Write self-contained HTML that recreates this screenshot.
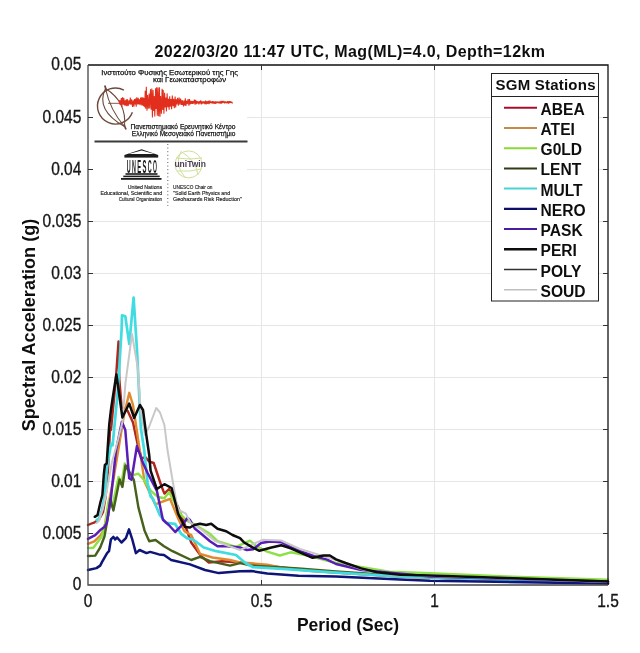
<!DOCTYPE html>
<html><head><meta charset="utf-8"><style>
html,body{margin:0;padding:0;background:#fff;width:640px;height:653px;overflow:hidden}
svg{display:block}
text{font-family:"Liberation Sans",sans-serif}
</style></head><body>
<svg width="640" height="653" viewBox="0 0 640 653">
<defs><filter id="soft" x="0" y="0" width="640" height="653" filterUnits="userSpaceOnUse"><feGaussianBlur stdDeviation="0.35"/></filter></defs>
<g filter="url(#soft)">
<rect width="640" height="653" fill="#fff"/>
<g stroke="#e6e6e6" stroke-width="1">
<path d="M261.5 65V585M434.5 65V585"/>
<path d="M88 533.5H608M88 481.5H608M88 429.5H608M88 377.5H608M88 325.5H608M88 273.5H608M88 221.5H608M88 169.5H608M88 117.5H608"/>
</g>
<rect x="89" y="66" width="158" height="145" fill="#fff"/>
<g font-size="7.8" fill="#111" stroke="#111" stroke-width="0.25">
<text x="101.3" y="75.4" textLength="136.7" lengthAdjust="spacingAndGlyphs">Ινστιτούτο Φυσικής Εσωτερικού της Γης</text>
<text x="153" y="82.4" textLength="73" lengthAdjust="spacingAndGlyphs">και Γεωκαταστροφών</text>
<text x="130.5" y="129.1" textLength="105" lengthAdjust="spacingAndGlyphs">Πανεπιστημιακό Ερευνητικό Κέντρο</text>
<text x="131.8" y="136.3" textLength="103.6" lengthAdjust="spacingAndGlyphs">Ελληνικό Μεσογειακό Πανεπιστήμιο</text>
</g>
<g fill="none" stroke="#6e4a3c" stroke-width="1.4">
<path d="M123.9 90.1 A18 18 0 1 0 132.4 112.2"/>
<path d="M105.5 88.5 Q95 110 124.5 126.5" stroke-width="1.1"/>
<path d="M105.5 88.5 Q110 110 124.5 126.5" stroke-width="1.1"/>
<path d="M105.5 88.5 Q127 102 124.5 126.5" stroke-width="1.1"/>
<path d="M104.8 85.5 L106.2 90 M124 124.5 L126 129.5" stroke-width="1.8"/>
<path d="M108 103.3 H120" stroke-width="0.9"/>
</g>
<path d="M119.0 100.0 L119.7 104.3 L120.3 100.3 L120.8 104.9 L121.3 98.0 L121.9 107.0 L122.5 97.4 L123.3 104.6 L123.8 97.9 L124.5 105.5 L125.2 100.3 L125.7 105.7 L126.3 99.3 L126.9 106.2 L127.5 99.3 L128.2 105.9 L129.0 100.3 L129.8 104.4 L130.3 97.6 L131.0 104.6 L131.7 99.3 L132.5 107.0 L133.2 100.3 L133.9 106.8 L134.5 99.0 L135.1 104.4 L135.6 98.5 L136.2 106.6 L136.8 97.4 L137.6 104.5 L138.2 97.9 L138.8 104.5 L139.4 99.3 L139.9 104.8 L140.6 97.6 L141.2 105.4 L141.8 97.4 L142.5 105.4 L143.0 97.4 L143.5 106.2 L144.1 98.0 L144.7 107.2 L145.2 90.8 L145.7 108.8 L146.3 86.8 L147.0 110.7 L147.5 95.0 L148.3 108.7 L149.1 93.5 L149.7 108.5 L150.5 89.2 L151.1 109.8 L151.8 88.4 L152.4 117.5 L153.1 89.9 L153.7 111.0 L154.2 96.1 L154.8 116.5 L155.6 88.3 L156.1 109.0 L156.7 87.2 L157.3 115.7 L158.0 87.4 L158.7 116.2 L159.4 87.3 L160.0 116.8 L160.6 96.1 L161.4 113.7 L162.1 88.8 L162.7 110.0 L163.2 89.9 L163.9 113.7 L164.6 92.8 L165.2 107.4 L165.9 97.6 L166.4 111.5 L167.1 93.4 L167.8 107.3 L168.5 98.8 L169.1 109.8 L169.7 96.3 L170.3 106.8 L171.0 99.1 L171.6 109.3 L172.3 95.6 L173.0 106.2 L173.7 98.8 L174.3 108.3 L175.1 96.5 L175.7 107.4 L176.3 99.4 L176.8 104.5 L177.6 97.7 L178.3 105.6 L179.1 97.6 L179.8 104.7 L180.6 98.5 L181.3 104.9 L181.8 100.2 L182.3 104.9 L182.8 100.3 L183.5 106.5 L184.3 100.6 L184.8 105.5 L185.3 98.3 L185.9 106.0 L186.6 100.7 L187.3 104.2 L188.1 99.1 L188.9 105.6 L189.5 99.1 L190.0 104.3 L190.5 100.9 L191.1 103.8 L191.8 100.8 L192.4 103.8 L193.0 101.1 L193.6 103.6 L194.4 99.6 L195.1 104.6 L195.7 99.8 L196.5 104.2 L197.1 101.1 L197.6 103.3 L198.2 101.3 L198.9 104.3 L199.5 101.3 L200.2 103.2 L200.7 100.3 L201.3 104.4 L201.9 101.4 L202.6 103.5 L203.2 101.5 L203.7 103.3 L204.3 101.4 L204.9 104.2 L205.6 100.5 L206.2 104.3 L207.0 101.0 L207.7 104.0 L208.4 100.8 L209.1 104.2 L209.8 100.5 L210.5 103.1 L211.1 101.4 L211.8 103.4 L212.5 101.1 L213.0 103.7 L213.7 101.3 L214.2 103.6 L214.7 101.5 L215.3 103.9 L215.9 101.4 L216.6 103.4 L217.1 101.6 L217.9 103.1 L218.4 101.6 L219.1 103.4 L219.7 101.4 L220.3 103.7 L221.1 100.9 L221.7 103.7 L222.3 101.0 L223.0 102.9 L223.8 100.9 L224.5 103.3 L225.3 101.5 L225.8 103.1 L226.4 101.7 L227.0 103.4 L227.7 101.2 L228.5 103.5 L229.1 101.1 L229.7 103.0 L230.2 101.2 L231.0 102.9 L231.7 101.8 L232.5 103.4" fill="none" stroke="#e22e1a" stroke-width="1.05" stroke-linejoin="bevel"/>
<path d="M94.5 141.6H247.5" stroke="#3a3a3a" stroke-width="2"/>
<g fill="#1a1a1a">
<path d="M124.4 155 L141.6 149.2 L158.2 155 Z"/>
<path d="M128.5 154 L141.6 150.6 L154.5 154 Z" fill="#fff"/>
<rect x="124.4" y="155" width="33.8" height="2.6"/>
<rect x="125.5" y="173.2" width="32" height="1.6"/>
<rect x="123.3" y="175.6" width="36.4" height="1.6"/>
<rect x="121" y="178" width="40.5" height="1.8"/>
</g>
<g font-size="19" font-weight="bold" fill="#1a1a1a"><text x="126.70" y="172.6" textLength="3.9" lengthAdjust="spacingAndGlyphs">U</text><text x="131.95" y="172.6" textLength="3.9" lengthAdjust="spacingAndGlyphs">N</text><text x="137.20" y="172.6" textLength="3.9" lengthAdjust="spacingAndGlyphs">E</text><text x="142.45" y="172.6" textLength="3.9" lengthAdjust="spacingAndGlyphs">S</text><text x="147.70" y="172.6" textLength="3.9" lengthAdjust="spacingAndGlyphs">C</text><text x="152.95" y="172.6" textLength="3.9" lengthAdjust="spacingAndGlyphs">O</text></g>
<path d="M167.8 144V206" stroke="#555" stroke-width="1" stroke-dasharray="1 2.6"/>
<g fill="none" stroke="#d0df98" stroke-width="1">
<circle cx="188.6" cy="164.4" r="13.5"/>
<path d="M181 151.5 Q174 164 185 177.5 M181 151.5 Q196 160 198 175 M176 158 Q190 160 202 158 M177 171 Q190 172 201 169"/>
</g>
<text x="174.4" y="166.9" font-size="8.6" font-weight="bold" fill="#4b3e57" textLength="31.5" lengthAdjust="spacingAndGlyphs">uniTwin</text>
<g font-size="5.2" fill="#222" stroke="#222" stroke-width="0.15">
<text x="162.1" y="188.9" text-anchor="end" textLength="34.4" lengthAdjust="spacingAndGlyphs">United Nations</text>
<text x="162.1" y="194.8" text-anchor="end" textLength="61.6" lengthAdjust="spacingAndGlyphs">Educational, Scientific and</text>
<text x="162.1" y="200.6" text-anchor="end" textLength="43.4" lengthAdjust="spacingAndGlyphs">Cultural Organization</text>
<text x="173.1" y="188.9" textLength="39.4" lengthAdjust="spacingAndGlyphs">UNESCO Chair on</text>
<text x="173.1" y="194.8" textLength="57" lengthAdjust="spacingAndGlyphs">"Solid Earth Physics and</text>
<text x="173.1" y="200.6" textLength="68.7" lengthAdjust="spacingAndGlyphs">Geohazards Risk Reduction"</text>
</g>
<g fill="none" stroke-linejoin="round" stroke-linecap="round">
<path d="M88.0 525.0 L91.5 523.5 L94.7 522.3 L98.9 519.6 L103.0 512.2 L105.5 497.5 L108.0 470.0 L110.1 428.0 L111.0 430.0 L114.0 399.0 L116.2 374.4 L118.5 341.5 L119.3 379.0 L121.6 406.6 L127.7 411.0 L133.0 422.5 L138.0 446.0 L141.8 458.8 L145.3 456.9 L149.1 461.5 L153.7 463.0 L161.4 486.0 L164.4 493.6 L169.0 489.0 L178.2 507.4 L185.0 525.0 L191.2 542.5 L201.2 556.2 L208.8 562.5 L222.5 561.2 L240.0 562.5 L300.0 569.5 L336.0 572.6 L400.0 576.5 L430.0 577.5 L608.0 583.0" stroke="#b0261c" stroke-width="2.4"/>
<path d="M88.0 543.8 L94.3 541.4 L100.7 535.0 L104.4 528.5 L108.4 504.3 L113.5 479.0 L118.5 448.7 L124.0 415.0 L129.3 392.8 L133.0 405.0 L138.0 438.8 L144.5 481.4 L155.2 504.4 L170.0 498.8 L178.8 520.0 L184.4 531.2 L191.2 535.0 L200.0 553.8 L212.5 557.5 L230.0 560.0 L240.0 562.5 L251.6 563.3 L267.2 564.8 L282.9 568.0 L314.1 571.2 L336.0 572.6 L400.0 576.5 L430.0 577.5 L608.0 583.0" stroke="#e0892e" stroke-width="2.4"/>
<path d="M88.0 548.0 L93.4 547.8 L101.6 536.8 L105.5 522.0 L108.8 500.0 L112.2 507.0 L118.6 477.0 L121.4 483.5 L124.8 463.5 L130.0 476.0 L138.4 473.7 L144.0 480.0 L150.7 490.6 L158.0 497.0 L164.4 498.2 L169.0 492.0 L181.3 515.0 L187.4 521.2 L191.2 522.5 L210.0 533.8 L217.5 541.2 L236.0 546.9 L250.0 540.6 L256.3 546.1 L267.2 551.6 L279.8 555.5 L290.7 552.3 L310.0 556.0 L336.0 563.0 L389.4 571.6 L430.0 573.1 L520.0 577.0 L608.0 579.8" stroke="#8ee048" stroke-width="2.4"/>
<path d="M88.0 556.0 L95.2 555.6 L100.2 547.5 L104.4 536.8 L108.1 516.0 L110.3 499.0 L113.4 510.5 L119.6 479.5 L122.4 487.0 L125.5 465.5 L129.0 471.0 L133.8 479.8 L138.4 507.4 L144.5 530.4 L149.2 541.2 L155.5 540.0 L164.0 546.2 L172.5 551.2 L191.2 560.0 L200.0 556.9 L210.0 561.2 L230.0 565.6 L240.0 563.1 L251.6 565.6 L298.5 568.5 L336.0 571.5 L380.0 574.5 L430.0 577.0 L608.0 581.5" stroke="#46601a" stroke-width="2.4"/>
<path d="M96.8 520.0 L99.0 518.6 L102.0 510.0 L104.9 494.7 L106.7 469.0 L111.1 443.8 L112.6 445.3 L117.8 391.0 L121.6 330.0 L122.0 315.3 L125.3 316.2 L129.3 344.0 L133.6 297.5 L137.0 350.0 L140.8 428.0 L144.2 450.0 L147.6 483.0 L150.7 496.7 L153.0 498.8 L159.8 515.0 L166.0 522.8 L175.0 523.8 L181.2 533.8 L186.9 538.1 L193.8 540.0 L203.8 547.5 L216.2 551.2 L236.0 555.0 L245.4 563.0 L253.2 567.2 L282.9 568.8 L314.1 571.2 L336.0 572.6 L400.0 576.5 L430.0 577.5 L608.0 583.0" stroke="#40dce2" stroke-width="2.7"/>
<path d="M88.0 570.0 L96.5 568.1 L100.2 565.6 L102.1 561.9 L107.1 553.1 L109.0 551.2 L110.9 539.4 L113.4 536.9 L115.2 539.4 L117.1 537.5 L121.5 542.5 L125.9 538.1 L129.0 529.4 L132.1 538.8 L135.9 553.1 L139.6 550.0 L146.5 553.1 L150.2 551.9 L159.0 554.4 L164.0 555.0 L171.2 560.0 L190.0 564.4 L205.0 570.0 L218.8 573.1 L240.0 571.2 L251.6 571.1 L267.2 573.4 L298.5 575.8 L336.0 576.5 L400.0 579.5 L430.0 580.7 L608.0 583.5" stroke="#0b1278" stroke-width="2.5"/>
<path d="M88.0 538.9 L95.2 535.2 L100.7 529.7 L104.4 527.0 L106.7 523.2 L110.8 499.3 L116.0 450.4 L121.9 421.7 L125.3 430.0 L129.2 478.3 L131.5 479.8 L136.9 446.1 L143.0 463.0 L147.6 473.0 L156.8 490.6 L162.9 519.7 L168.8 525.0 L175.2 532.0 L181.3 525.8 L187.5 518.1 L190.0 520.0 L195.0 528.8 L201.2 533.8 L210.0 541.2 L217.5 546.2 L227.5 546.2 L240.0 547.5 L246.9 550.0 L253.2 549.2 L261.0 543.0 L270.4 541.4 L281.3 542.2 L290.7 546.9 L303.2 552.3 L314.1 556.2 L326.6 559.4 L336.0 564.0 L361.2 570.0 L430.0 576.5 L608.0 582.0" stroke="#5a1cb8" stroke-width="2.5"/>
<path d="M96.5 523.0 L99.0 521.0 L103.0 508.0 L106.0 495.0 L112.0 462.0 L118.0 440.0 L122.4 422.0 L125.4 383.6 L132.0 334.0 L137.8 368.0 L140.6 410.0 L145.0 435.0 L149.0 427.0 L156.2 408.0 L160.0 412.5 L164.4 425.0 L167.5 450.0 L172.5 480.0 L176.2 501.0 L178.8 510.0 L185.9 513.6 L190.5 522.8 L202.0 530.0 L215.0 541.0 L240.0 550.0 L262.6 539.8 L281.0 540.5 L300.0 549.0 L336.0 560.0 L345.6 563.5 L361.2 569.0 L376.9 572.8 L400.3 575.2 L430.0 576.0 L520.0 579.0 L608.0 582.0" stroke="#c8c8c8" stroke-width="2.0"/>
<path d="M94.8 516.8 L97.5 515.2 L100.5 502.0 L102.4 495.0 L103.8 475.0 L104.9 465.0 L106.7 463.5 L109.2 425.0 L111.1 408.7 L112.4 400.0 L116.4 374.5 L122.4 417.5 L129.2 403.5 L134.2 418.0 L139.9 405.0 L143.0 410.0 L146.1 433.7 L149.2 455.0 L150.6 470.6 L156.8 489.0 L164.4 484.2 L171.6 488.0 L175.0 501.2 L178.1 513.7 L181.9 521.2 L185.0 526.9 L190.0 527.5 L194.4 525.0 L200.0 523.7 L206.2 525.0 L211.2 523.7 L217.5 528.7 L226.2 531.2 L232.5 535.0 L240.0 538.1 L243.8 542.2 L251.6 546.9 L259.4 550.8 L270.4 547.7 L281.3 545.3 L290.7 548.4 L301.6 553.1 L312.6 557.8 L323.5 555.5 L329.8 555.5 L336.0 559.4 L345.6 563.0 L361.2 568.4 L376.9 572.3 L400.3 574.7 L430.0 575.5 L520.0 578.5 L608.0 581.5" stroke="#0a0a0a" stroke-width="2.5"/>
</g>
<g fill="none" stroke-width="1.3">
<path d="M88 65H608V585" stroke="#111"/>
<path d="M88 65V585H608" stroke="#444"/>
</g>
<g stroke="#333" stroke-width="1">
<path d="M261.5 585v-5M434.5 585v-5M261.5 65v5M434.5 65v5"/>
<path d="M88 533.5h5M88 481.5h5M88 429.5h5M88 377.5h5M88 325.5h5M88 273.5h5M88 221.5h5M88 169.5h5M88 117.5h5"/>
<path d="M608 533.5h-5M608 481.5h-5M608 429.5h-5M608 377.5h-5M608 325.5h-5M608 273.5h-5M608 221.5h-5M608 169.5h-5M608 117.5h-5"/>
</g>
<g font-size="15.5" fill="#151515" stroke="#151515" stroke-width="0.3" text-anchor="end">
<text transform="translate(81.3 590.3) scale(1 1.17)">0</text>
<text transform="translate(81.3 538.8) scale(1 1.17)">0.005</text>
<text transform="translate(81.3 486.8) scale(1 1.17)">0.01</text>
<text transform="translate(81.3 434.8) scale(1 1.17)">0.015</text>
<text transform="translate(81.3 382.8) scale(1 1.17)">0.02</text>
<text transform="translate(81.3 330.8) scale(1 1.17)">0.025</text>
<text transform="translate(81.3 278.8) scale(1 1.17)">0.03</text>
<text transform="translate(81.3 226.8) scale(1 1.17)">0.035</text>
<text transform="translate(81.3 174.8) scale(1 1.17)">0.04</text>
<text transform="translate(81.3 122.8) scale(1 1.17)">0.045</text>
<text transform="translate(81.3 70.3) scale(1 1.17)">0.05</text>
</g>
<g font-size="15.5" fill="#151515" stroke="#151515" stroke-width="0.3" text-anchor="middle">
<text transform="translate(88 607.0) scale(1 1.17)">0</text>
<text transform="translate(261.5 607.0) scale(1 1.17)">0.5</text>
<text transform="translate(434.5 607.0) scale(1 1.17)">1</text>
<text transform="translate(608 607.0) scale(1 1.17)">1.5</text>
</g>
<text x="154.5" y="56.5" font-size="16" font-weight="bold" fill="#111" textLength="390.5" lengthAdjust="spacing">2022/03/20 11:47 UTC, Mag(ML)=4.0, Depth=12km</text>
<text x="348" y="631" font-size="17.5" font-weight="bold" fill="#111" text-anchor="middle">Period (Sec)</text>
<text transform="translate(34.8,325) rotate(-90)" font-size="18.1" font-weight="bold" fill="#111" text-anchor="middle">Spectral Acceleration (g)</text>
<rect x="491.5" y="73.5" width="107" height="227.5" fill="#fff" stroke="#222" stroke-width="1"/>
<path d="M491.5 96.5H598.5" stroke="#222" stroke-width="1"/>
<text x="495.5" y="89.7" font-size="15" font-weight="bold" fill="#111" textLength="100" lengthAdjust="spacing">SGM Stations</text>
<g fill="none">
<path d="M504 107.7H537" stroke="#a8102a" stroke-width="2.0"/>
<text x="540.5" y="114.7" font-size="15.6" font-weight="bold" fill="#111">ABEA</text>
<path d="M504 127.9H537" stroke="#c88a48" stroke-width="2.0"/>
<text x="540.5" y="134.9" font-size="15.6" font-weight="bold" fill="#111">ATEI</text>
<path d="M504 148.2H537" stroke="#8cd83a" stroke-width="2.0"/>
<text x="540.5" y="155.2" font-size="15.6" font-weight="bold" fill="#111">G0LD</text>
<path d="M504 168.4H537" stroke="#2e3e14" stroke-width="2.0"/>
<text x="540.5" y="175.4" font-size="15.6" font-weight="bold" fill="#111">LENT</text>
<path d="M504 188.6H537" stroke="#48d4d4" stroke-width="2.0"/>
<text x="540.5" y="195.6" font-size="15.6" font-weight="bold" fill="#111">MULT</text>
<path d="M504 208.9H537" stroke="#0a0a6a" stroke-width="2.2"/>
<text x="540.5" y="215.9" font-size="15.6" font-weight="bold" fill="#111">NERO</text>
<path d="M504 229.1H537" stroke="#4a1ca0" stroke-width="2.0"/>
<text x="540.5" y="236.1" font-size="15.6" font-weight="bold" fill="#111">PASK</text>
<path d="M504 249.3H537" stroke="#0a0a0a" stroke-width="2.4"/>
<text x="540.5" y="256.3" font-size="15.6" font-weight="bold" fill="#111">PERI</text>
<path d="M504 269.5H537" stroke="#333333" stroke-width="1.6"/>
<text x="540.5" y="276.5" font-size="15.6" font-weight="bold" fill="#111">POLY</text>
<path d="M504 289.8H537" stroke="#c0c0c0" stroke-width="1.6"/>
<text x="540.5" y="296.8" font-size="15.6" font-weight="bold" fill="#111">SOUD</text>
</g>
</g>
</svg>
</body></html>
